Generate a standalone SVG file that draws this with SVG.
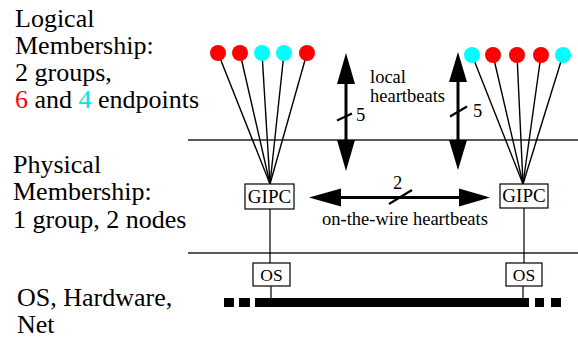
<svg xmlns="http://www.w3.org/2000/svg" width="578" height="339" viewBox="0 0 578 339" font-family="'Liberation Serif', 'DejaVu Serif', serif">
  <style>
    text { font-family: 'Liberation Serif', 'DejaVu Serif', serif; fill: #000; }
    .big { font-size: 26px; }
    .mid { font-size: 18.5px; }
    .box { font-size: 19px; }
    .os { font-size: 17.5px; }
    .rule { stroke: #222; stroke-width: 1.6; }
    .fan { stroke: #000; stroke-width: 1.4; }
    .thin { stroke: #000; stroke-width: 1.2; }
    .node { fill: #fff; stroke: #000; stroke-width: 1.2; }
    .red { fill: #ff0000; }
    .cyan { fill: #00ffff; }
    .hb { stroke: #000; stroke-width: 3; }
    .slash { stroke: #000; stroke-width: 2.2; }
  </style>
  <rect width="578" height="339" fill="#fff"/>

  <!-- layer captions -->
  <g id="captions">
    <text class="big" x="15" y="27">Logical</text>
    <text class="big" x="15" y="54">Membership:</text>
    <text class="big" x="15" y="81">2 groups,</text>
    <text class="big" x="15" y="108"><tspan fill="#ff0000">6</tspan> and <tspan fill="#00e5e5">4</tspan> endpoints</text>
    <text class="big" x="13" y="172.5">Physical</text>
    <text class="big" x="13" y="200">Membership:</text>
    <text class="big" x="13" y="228">1 group, 2 nodes</text>
    <text class="big" x="17" y="306">OS, Hardware,</text>
    <text class="big" x="17" y="333">Net</text>
  </g>

  <!-- layer separators -->
  <g id="separators">
    <line class="rule" x1="188" y1="140" x2="578" y2="140"/>
    <line class="rule" x1="188" y1="253" x2="578" y2="253"/>
  </g>

  <!-- network bus -->
  <g id="network">
    <rect x="224" y="298" width="10" height="9"/>
    <rect x="239" y="298" width="11" height="9"/>
    <rect x="255" y="298" width="274" height="9"/>
    <rect x="535" y="298" width="9" height="9"/>
    <rect x="551" y="298" width="10" height="9"/>
  </g>

  <g id="connectors">
    <!-- left fan: endpoints to GIPC -->
    <line class="fan" x1="218" y1="53" x2="270" y2="184"/>
    <line class="fan" x1="240" y1="53" x2="270" y2="184"/>
    <line class="fan" x1="262" y1="53" x2="270" y2="184"/>
    <line class="fan" x1="284" y1="53" x2="270" y2="184"/>
    <line class="fan" x1="307" y1="53" x2="270" y2="184"/>
    <!-- right fan: endpoints to GIPC -->
    <line class="fan" x1="472" y1="55" x2="523" y2="184"/>
    <line class="fan" x1="493" y1="55" x2="523" y2="184"/>
    <line class="fan" x1="517" y1="55" x2="523" y2="184"/>
    <line class="fan" x1="541" y1="55" x2="523" y2="184"/>
    <line class="fan" x1="563" y1="55" x2="523" y2="184"/>
    <!-- GIPC to OS to bus -->
    <line class="thin" x1="270" y1="209" x2="270" y2="263"/>
    <line class="thin" x1="271" y1="286" x2="271" y2="299"/>
    <line class="thin" x1="524" y1="208" x2="524" y2="263"/>
    <line class="thin" x1="523" y1="286" x2="523" y2="299"/>

    <!-- local heartbeats, left -->
    <line class="hb" x1="346" y1="80" x2="346" y2="142"/>
    <polygon points="346,53 337,84 355,84"/>
    <polygon points="346,171 337,140 355,140"/>
    <line class="slash" x1="337" y1="120.5" x2="352" y2="113.5"/>
    <!-- local heartbeats, right -->
    <line class="hb" x1="458" y1="80" x2="458" y2="142"/>
    <polygon points="458,52 449,82 467,82"/>
    <polygon points="458,170 449,140 467,140"/>
    <line class="slash" x1="450" y1="116.5" x2="467" y2="106.5"/>
    <!-- on-the-wire heartbeats -->
    <line class="hb" x1="336" y1="197.5" x2="463" y2="197.5"/>
    <polygon points="309,197.5 341,188.5 341,206.5"/>
    <polygon points="490,197.5 459,188.5 459,206.5"/>
    <line class="slash" x1="389" y1="204" x2="412" y2="190"/>
  </g>

  <!-- heartbeat labels -->
  <g id="labels">
    <text class="mid" x="356" y="121">5</text>
    <text class="mid" x="473" y="117">5</text>
    <text class="mid" x="370" y="83">local</text>
    <text class="mid" x="370" y="102">heartbeats</text>
    <text class="mid" x="393" y="189">2</text>
    <text class="mid" x="322" y="225">on-the-wire heartbeats</text>
  </g>

  <!-- endpoints of the two groups -->
  <g id="endpoints-left">
    <circle class="red" cx="218" cy="53" r="8"/>
    <circle class="red" cx="240" cy="53" r="8"/>
    <circle class="cyan" cx="262" cy="53" r="8"/>
    <circle class="cyan" cx="284" cy="53" r="8"/>
    <circle class="red" cx="307" cy="53" r="8"/>
  </g>
  <g id="endpoints-right">
    <circle class="cyan" cx="472" cy="55" r="8"/>
    <circle class="red" cx="493" cy="55" r="8"/>
    <circle class="red" cx="517" cy="55" r="8"/>
    <circle class="red" cx="541" cy="55" r="8"/>
    <circle class="cyan" cx="563" cy="55" r="8"/>
  </g>

  <g id="gipc-left">
    <rect class="node" x="245" y="184" width="49" height="25"/>
    <text class="box" x="269.5" y="202.5" text-anchor="middle">GIPC</text>
  </g>
  <g id="gipc-right">
    <rect class="node" x="500" y="184" width="48" height="24"/>
    <text class="box" x="524" y="202" text-anchor="middle">GIPC</text>
  </g>
  <g id="os-left">
    <rect class="node" x="253" y="263" width="37" height="23"/>
    <text class="os" x="271.5" y="280.5" text-anchor="middle">OS</text>
  </g>
  <g id="os-right">
    <rect class="node" x="506" y="263" width="36" height="23"/>
    <text class="os" x="524" y="280.5" text-anchor="middle">OS</text>
  </g>
</svg>
